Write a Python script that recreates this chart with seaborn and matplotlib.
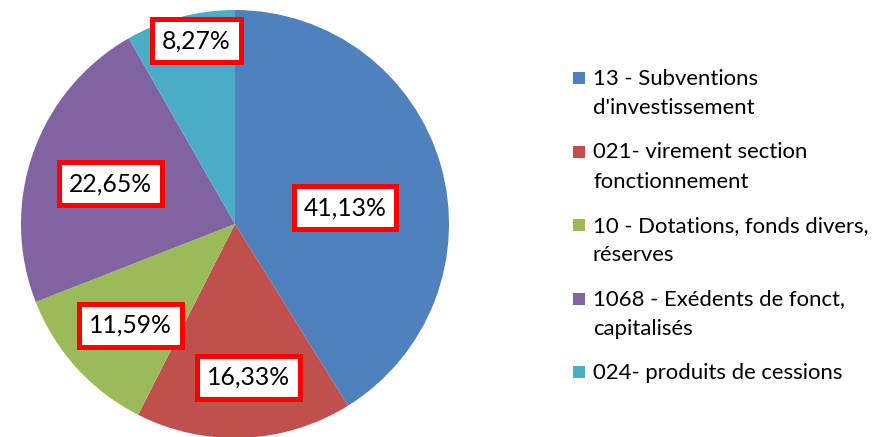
import matplotlib
matplotlib.use("Agg")
import matplotlib.pyplot as plt
import seaborn as sns
import numpy as np
from matplotlib.patches import Rectangle

# ---- data ----
categories = [
    "13 - Subventions\nd'investissement",
    "021- virement section\nfonctionnement",
    "10 - Dotations, fonds divers,\nréserves",
    "1068 - Exédents de fonct,\ncapitalisés",
    "024- produits de cessions",
]
shares = [41.13, 16.33, 11.59, 22.65, 8.27]
value_labels = ["41,13%", "16,33%", "11,59%", "22,65%", "8,27%"]

# ---- style ----
sns.set_theme(style="white")
plt.rcParams["font.family"] = ["Lato", "DejaVu Sans"]
colors = ["#4F81BD", "#C0504D", "#9BBB59", "#8064A2", "#4BACC6"]
label_radius = [0.52, 0.72, 0.68, 0.61, 0.875]
label_angle_shift = [-7.5, 2.5, 2.0, 1.5, -3.0]

W, H = 876, 437
fig = plt.figure(figsize=(W / 100, H / 100), dpi=100)
cx, cy, R = 235, 224, 214
ax = fig.add_axes([(cx - R) / W, (H - cy - R) / H, 2 * R / W, 2 * R / H])

wedges, _ = ax.pie(shares, colors=colors, startangle=90, counterclock=False,
                   wedgeprops=dict(linewidth=0))
ax.set_xlim(-1, 1)
ax.set_ylim(-1, 1)
ax.set_aspect("equal")
ax.axis("off")

for w, lab, r, da in zip(wedges, value_labels, label_radius, label_angle_shift):
    mid = np.deg2rad((w.theta1 + w.theta2) / 2 + da)
    ax.text(r * np.cos(mid), r * np.sin(mid), lab, ha="center", va="center",
            fontsize=17.8, color="black",
            bbox=dict(boxstyle="square,pad=0.4", facecolor="white",
                      edgecolor="#FF0000", linewidth=3.6))

# ---- legend (top-aligned marker like the original) ----
y0, dy = 78, 73.5
for i, (lab, col) in enumerate(zip(categories, colors)):
    yc = y0 + i * dy
    fig.patches.append(Rectangle((573 / W, 1 - (yc + 6) / H), 12 / W, 12 / H,
                                 transform=fig.transFigure, facecolor=col,
                                 edgecolor="none"))
    fig.text(593 / W, 1 - (yc - 9) / H, lab, ha="left", va="top",
             fontsize=15.9, color="black", linespacing=1.57)

fig.savefig("out.png", dpi=100)
